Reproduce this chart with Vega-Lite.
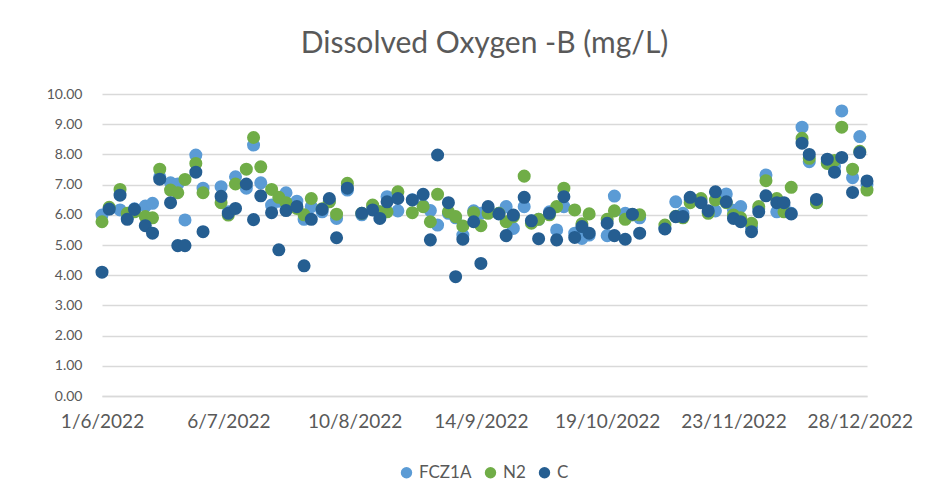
{
  "$schema": "https://vega.github.io/schema/vega-lite/v6.json",
  "width": 765,
  "height": 302,
  "autosize": {"type": "none"},
  "padding": {"left": 102, "top": 94, "right": 85, "bottom": 104},
  "background": "white",
  "title": {"text": "Dissolved Oxygen -B (mg/L)", "font": "Lato", "fontSize": 30, "fontWeight": "normal", "color": "#595959", "anchor": "middle", "offset": 28},
  "config": {"view": {"stroke": null}},
  "data": {"values": [
    {"date": "2022-06-01", "series": "FCZ1A", "value": 5.99},
    {"date": "2022-06-03", "series": "FCZ1A", "value": 6.2},
    {"date": "2022-06-06", "series": "FCZ1A", "value": 6.16},
    {"date": "2022-06-08", "series": "FCZ1A", "value": 5.9},
    {"date": "2022-06-10", "series": "FCZ1A", "value": 6.2},
    {"date": "2022-06-13", "series": "FCZ1A", "value": 6.29},
    {"date": "2022-06-15", "series": "FCZ1A", "value": 6.38},
    {"date": "2022-06-17", "series": "FCZ1A", "value": 7.26},
    {"date": "2022-06-20", "series": "FCZ1A", "value": 7.06},
    {"date": "2022-06-22", "series": "FCZ1A", "value": 7.02},
    {"date": "2022-06-24", "series": "FCZ1A", "value": 5.83},
    {"date": "2022-06-27", "series": "FCZ1A", "value": 7.98},
    {"date": "2022-06-29", "series": "FCZ1A", "value": 6.88},
    {"date": "2022-07-04", "series": "FCZ1A", "value": 6.93},
    {"date": "2022-07-06", "series": "FCZ1A", "value": 6.1},
    {"date": "2022-07-08", "series": "FCZ1A", "value": 7.26},
    {"date": "2022-07-11", "series": "FCZ1A", "value": 6.88},
    {"date": "2022-07-13", "series": "FCZ1A", "value": 8.31},
    {"date": "2022-07-15", "series": "FCZ1A", "value": 7.06},
    {"date": "2022-07-18", "series": "FCZ1A", "value": 6.32},
    {"date": "2022-07-20", "series": "FCZ1A", "value": 6.45},
    {"date": "2022-07-22", "series": "FCZ1A", "value": 6.73},
    {"date": "2022-07-25", "series": "FCZ1A", "value": 6.45},
    {"date": "2022-07-27", "series": "FCZ1A", "value": 5.85},
    {"date": "2022-07-29", "series": "FCZ1A", "value": 6.27},
    {"date": "2022-08-01", "series": "FCZ1A", "value": 6.1},
    {"date": "2022-08-03", "series": "FCZ1A", "value": 6.45},
    {"date": "2022-08-05", "series": "FCZ1A", "value": 5.88},
    {"date": "2022-08-08", "series": "FCZ1A", "value": 6.82},
    {"date": "2022-08-12", "series": "FCZ1A", "value": 6.0},
    {"date": "2022-08-15", "series": "FCZ1A", "value": 6.25},
    {"date": "2022-08-17", "series": "FCZ1A", "value": 6.1},
    {"date": "2022-08-19", "series": "FCZ1A", "value": 6.6},
    {"date": "2022-08-22", "series": "FCZ1A", "value": 6.13},
    {"date": "2022-08-26", "series": "FCZ1A", "value": 6.5},
    {"date": "2022-08-29", "series": "FCZ1A", "value": 6.3},
    {"date": "2022-08-31", "series": "FCZ1A", "value": 6.14},
    {"date": "2022-09-02", "series": "FCZ1A", "value": 5.66},
    {"date": "2022-09-05", "series": "FCZ1A", "value": 6.05},
    {"date": "2022-09-07", "series": "FCZ1A", "value": 5.9},
    {"date": "2022-09-09", "series": "FCZ1A", "value": 5.33},
    {"date": "2022-09-12", "series": "FCZ1A", "value": 6.13},
    {"date": "2022-09-14", "series": "FCZ1A", "value": 6.05},
    {"date": "2022-09-16", "series": "FCZ1A", "value": 6.2},
    {"date": "2022-09-19", "series": "FCZ1A", "value": 6.05},
    {"date": "2022-09-21", "series": "FCZ1A", "value": 6.27},
    {"date": "2022-09-23", "series": "FCZ1A", "value": 5.55},
    {"date": "2022-09-26", "series": "FCZ1A", "value": 6.27},
    {"date": "2022-09-28", "series": "FCZ1A", "value": 5.8},
    {"date": "2022-09-30", "series": "FCZ1A", "value": 5.85},
    {"date": "2022-10-03", "series": "FCZ1A", "value": 6.1},
    {"date": "2022-10-05", "series": "FCZ1A", "value": 5.5},
    {"date": "2022-10-07", "series": "FCZ1A", "value": 6.27},
    {"date": "2022-10-10", "series": "FCZ1A", "value": 5.39},
    {"date": "2022-10-12", "series": "FCZ1A", "value": 5.22},
    {"date": "2022-10-14", "series": "FCZ1A", "value": 5.33},
    {"date": "2022-10-19", "series": "FCZ1A", "value": 5.31},
    {"date": "2022-10-21", "series": "FCZ1A", "value": 6.62},
    {"date": "2022-10-24", "series": "FCZ1A", "value": 6.05},
    {"date": "2022-10-26", "series": "FCZ1A", "value": 6.0},
    {"date": "2022-10-28", "series": "FCZ1A", "value": 5.9},
    {"date": "2022-11-04", "series": "FCZ1A", "value": 5.55},
    {"date": "2022-11-07", "series": "FCZ1A", "value": 6.43},
    {"date": "2022-11-09", "series": "FCZ1A", "value": 6.05},
    {"date": "2022-11-11", "series": "FCZ1A", "value": 6.5},
    {"date": "2022-11-14", "series": "FCZ1A", "value": 6.45},
    {"date": "2022-11-16", "series": "FCZ1A", "value": 6.1},
    {"date": "2022-11-18", "series": "FCZ1A", "value": 6.13},
    {"date": "2022-11-21", "series": "FCZ1A", "value": 6.69},
    {"date": "2022-11-23", "series": "FCZ1A", "value": 6.15},
    {"date": "2022-11-25", "series": "FCZ1A", "value": 6.27},
    {"date": "2022-11-28", "series": "FCZ1A", "value": 5.6},
    {"date": "2022-11-30", "series": "FCZ1A", "value": 6.2},
    {"date": "2022-12-02", "series": "FCZ1A", "value": 7.32},
    {"date": "2022-12-05", "series": "FCZ1A", "value": 6.1},
    {"date": "2022-12-07", "series": "FCZ1A", "value": 6.3},
    {"date": "2022-12-09", "series": "FCZ1A", "value": 6.05},
    {"date": "2022-12-12", "series": "FCZ1A", "value": 8.9},
    {"date": "2022-12-14", "series": "FCZ1A", "value": 7.76},
    {"date": "2022-12-16", "series": "FCZ1A", "value": 6.4},
    {"date": "2022-12-19", "series": "FCZ1A", "value": 7.75},
    {"date": "2022-12-21", "series": "FCZ1A", "value": 7.6},
    {"date": "2022-12-23", "series": "FCZ1A", "value": 9.44},
    {"date": "2022-12-26", "series": "FCZ1A", "value": 7.23},
    {"date": "2022-12-28", "series": "FCZ1A", "value": 8.59},
    {"date": "2022-12-30", "series": "FCZ1A", "value": 7.0},

    {"date": "2022-06-01", "series": "N2", "value": 5.77},
    {"date": "2022-06-03", "series": "N2", "value": 6.25},
    {"date": "2022-06-06", "series": "N2", "value": 6.84},
    {"date": "2022-06-08", "series": "N2", "value": 6.05},
    {"date": "2022-06-10", "series": "N2", "value": 6.1},
    {"date": "2022-06-13", "series": "N2", "value": 5.94},
    {"date": "2022-06-15", "series": "N2", "value": 5.9},
    {"date": "2022-06-17", "series": "N2", "value": 7.51},
    {"date": "2022-06-20", "series": "N2", "value": 6.82},
    {"date": "2022-06-22", "series": "N2", "value": 6.73},
    {"date": "2022-06-24", "series": "N2", "value": 7.17},
    {"date": "2022-06-27", "series": "N2", "value": 7.7},
    {"date": "2022-06-29", "series": "N2", "value": 6.73},
    {"date": "2022-07-04", "series": "N2", "value": 6.4},
    {"date": "2022-07-06", "series": "N2", "value": 5.99},
    {"date": "2022-07-08", "series": "N2", "value": 7.02},
    {"date": "2022-07-11", "series": "N2", "value": 7.51},
    {"date": "2022-07-13", "series": "N2", "value": 8.56},
    {"date": "2022-07-15", "series": "N2", "value": 7.59},
    {"date": "2022-07-18", "series": "N2", "value": 6.84},
    {"date": "2022-07-20", "series": "N2", "value": 6.58},
    {"date": "2022-07-22", "series": "N2", "value": 6.4},
    {"date": "2022-07-25", "series": "N2", "value": 6.21},
    {"date": "2022-07-27", "series": "N2", "value": 6.0},
    {"date": "2022-07-29", "series": "N2", "value": 6.54},
    {"date": "2022-08-01", "series": "N2", "value": 6.2},
    {"date": "2022-08-03", "series": "N2", "value": 6.43},
    {"date": "2022-08-05", "series": "N2", "value": 6.02},
    {"date": "2022-08-08", "series": "N2", "value": 7.04},
    {"date": "2022-08-12", "series": "N2", "value": 6.05},
    {"date": "2022-08-15", "series": "N2", "value": 6.32},
    {"date": "2022-08-17", "series": "N2", "value": 6.1},
    {"date": "2022-08-19", "series": "N2", "value": 6.1},
    {"date": "2022-08-22", "series": "N2", "value": 6.76},
    {"date": "2022-08-26", "series": "N2", "value": 6.07},
    {"date": "2022-08-29", "series": "N2", "value": 6.27},
    {"date": "2022-08-31", "series": "N2", "value": 5.77},
    {"date": "2022-09-02", "series": "N2", "value": 6.68},
    {"date": "2022-09-05", "series": "N2", "value": 6.1},
    {"date": "2022-09-07", "series": "N2", "value": 5.94},
    {"date": "2022-09-09", "series": "N2", "value": 5.63},
    {"date": "2022-09-12", "series": "N2", "value": 6.07},
    {"date": "2022-09-14", "series": "N2", "value": 5.64},
    {"date": "2022-09-16", "series": "N2", "value": 6.05},
    {"date": "2022-09-19", "series": "N2", "value": 6.05},
    {"date": "2022-09-21", "series": "N2", "value": 5.77},
    {"date": "2022-09-23", "series": "N2", "value": 5.94},
    {"date": "2022-09-26", "series": "N2", "value": 7.28},
    {"date": "2022-09-28", "series": "N2", "value": 5.72},
    {"date": "2022-09-30", "series": "N2", "value": 5.85},
    {"date": "2022-10-03", "series": "N2", "value": 6.0},
    {"date": "2022-10-05", "series": "N2", "value": 6.27},
    {"date": "2022-10-07", "series": "N2", "value": 6.88},
    {"date": "2022-10-10", "series": "N2", "value": 6.16},
    {"date": "2022-10-12", "series": "N2", "value": 5.7},
    {"date": "2022-10-14", "series": "N2", "value": 6.03},
    {"date": "2022-10-19", "series": "N2", "value": 5.85},
    {"date": "2022-10-21", "series": "N2", "value": 6.13},
    {"date": "2022-10-24", "series": "N2", "value": 5.85},
    {"date": "2022-10-26", "series": "N2", "value": 6.0},
    {"date": "2022-10-28", "series": "N2", "value": 6.0},
    {"date": "2022-11-04", "series": "N2", "value": 5.66},
    {"date": "2022-11-07", "series": "N2", "value": 5.95},
    {"date": "2022-11-09", "series": "N2", "value": 5.9},
    {"date": "2022-11-11", "series": "N2", "value": 6.4},
    {"date": "2022-11-14", "series": "N2", "value": 6.54},
    {"date": "2022-11-16", "series": "N2", "value": 6.05},
    {"date": "2022-11-18", "series": "N2", "value": 6.49},
    {"date": "2022-11-21", "series": "N2", "value": 6.4},
    {"date": "2022-11-23", "series": "N2", "value": 5.99},
    {"date": "2022-11-25", "series": "N2", "value": 5.9},
    {"date": "2022-11-28", "series": "N2", "value": 5.72},
    {"date": "2022-11-30", "series": "N2", "value": 6.27},
    {"date": "2022-12-02", "series": "N2", "value": 7.13},
    {"date": "2022-12-05", "series": "N2", "value": 6.54},
    {"date": "2022-12-07", "series": "N2", "value": 6.1},
    {"date": "2022-12-09", "series": "N2", "value": 6.91},
    {"date": "2022-12-12", "series": "N2", "value": 8.53},
    {"date": "2022-12-14", "series": "N2", "value": 7.87},
    {"date": "2022-12-16", "series": "N2", "value": 6.4},
    {"date": "2022-12-19", "series": "N2", "value": 7.7},
    {"date": "2022-12-21", "series": "N2", "value": 7.8},
    {"date": "2022-12-23", "series": "N2", "value": 8.9},
    {"date": "2022-12-26", "series": "N2", "value": 7.51},
    {"date": "2022-12-28", "series": "N2", "value": 8.1},
    {"date": "2022-12-30", "series": "N2", "value": 6.82},

    {"date": "2022-06-01", "series": "C", "value": 4.1},
    {"date": "2022-06-03", "series": "C", "value": 6.19},
    {"date": "2022-06-06", "series": "C", "value": 6.65},
    {"date": "2022-06-08", "series": "C", "value": 5.85},
    {"date": "2022-06-10", "series": "C", "value": 6.18},
    {"date": "2022-06-13", "series": "C", "value": 5.64},
    {"date": "2022-06-15", "series": "C", "value": 5.39},
    {"date": "2022-06-17", "series": "C", "value": 7.18},
    {"date": "2022-06-20", "series": "C", "value": 6.4},
    {"date": "2022-06-22", "series": "C", "value": 4.98},
    {"date": "2022-06-24", "series": "C", "value": 4.98},
    {"date": "2022-06-27", "series": "C", "value": 7.41},
    {"date": "2022-06-29", "series": "C", "value": 5.44},
    {"date": "2022-07-04", "series": "C", "value": 6.61},
    {"date": "2022-07-06", "series": "C", "value": 6.05},
    {"date": "2022-07-08", "series": "C", "value": 6.21},
    {"date": "2022-07-11", "series": "C", "value": 7.02},
    {"date": "2022-07-13", "series": "C", "value": 5.84},
    {"date": "2022-07-15", "series": "C", "value": 6.63},
    {"date": "2022-07-18", "series": "C", "value": 6.07},
    {"date": "2022-07-20", "series": "C", "value": 4.84},
    {"date": "2022-07-22", "series": "C", "value": 6.14},
    {"date": "2022-07-25", "series": "C", "value": 6.27},
    {"date": "2022-07-27", "series": "C", "value": 4.31},
    {"date": "2022-07-29", "series": "C", "value": 5.85},
    {"date": "2022-08-01", "series": "C", "value": 6.18},
    {"date": "2022-08-03", "series": "C", "value": 6.54},
    {"date": "2022-08-05", "series": "C", "value": 5.24},
    {"date": "2022-08-08", "series": "C", "value": 6.88},
    {"date": "2022-08-12", "series": "C", "value": 6.05},
    {"date": "2022-08-15", "series": "C", "value": 6.16},
    {"date": "2022-08-17", "series": "C", "value": 5.88},
    {"date": "2022-08-19", "series": "C", "value": 6.43},
    {"date": "2022-08-22", "series": "C", "value": 6.54},
    {"date": "2022-08-26", "series": "C", "value": 6.49},
    {"date": "2022-08-29", "series": "C", "value": 6.68},
    {"date": "2022-08-31", "series": "C", "value": 5.17},
    {"date": "2022-09-02", "series": "C", "value": 7.98},
    {"date": "2022-09-05", "series": "C", "value": 6.4},
    {"date": "2022-09-07", "series": "C", "value": 3.95},
    {"date": "2022-09-09", "series": "C", "value": 5.19},
    {"date": "2022-09-12", "series": "C", "value": 5.77},
    {"date": "2022-09-14", "series": "C", "value": 4.39},
    {"date": "2022-09-16", "series": "C", "value": 6.27},
    {"date": "2022-09-19", "series": "C", "value": 6.03},
    {"date": "2022-09-21", "series": "C", "value": 5.31},
    {"date": "2022-09-23", "series": "C", "value": 5.99},
    {"date": "2022-09-26", "series": "C", "value": 6.58},
    {"date": "2022-09-28", "series": "C", "value": 5.8},
    {"date": "2022-09-30", "series": "C", "value": 5.21},
    {"date": "2022-10-03", "series": "C", "value": 6.05},
    {"date": "2022-10-05", "series": "C", "value": 5.17},
    {"date": "2022-10-07", "series": "C", "value": 6.6},
    {"date": "2022-10-10", "series": "C", "value": 5.25},
    {"date": "2022-10-12", "series": "C", "value": 5.61},
    {"date": "2022-10-14", "series": "C", "value": 5.39},
    {"date": "2022-10-19", "series": "C", "value": 5.72},
    {"date": "2022-10-21", "series": "C", "value": 5.31},
    {"date": "2022-10-24", "series": "C", "value": 5.19},
    {"date": "2022-10-26", "series": "C", "value": 6.02},
    {"date": "2022-10-28", "series": "C", "value": 5.39},
    {"date": "2022-11-04", "series": "C", "value": 5.53},
    {"date": "2022-11-07", "series": "C", "value": 5.94},
    {"date": "2022-11-09", "series": "C", "value": 5.94},
    {"date": "2022-11-11", "series": "C", "value": 6.58},
    {"date": "2022-11-14", "series": "C", "value": 6.4},
    {"date": "2022-11-16", "series": "C", "value": 6.13},
    {"date": "2022-11-18", "series": "C", "value": 6.76},
    {"date": "2022-11-21", "series": "C", "value": 6.43},
    {"date": "2022-11-23", "series": "C", "value": 5.88},
    {"date": "2022-11-25", "series": "C", "value": 5.77},
    {"date": "2022-11-28", "series": "C", "value": 5.44},
    {"date": "2022-11-30", "series": "C", "value": 6.1},
    {"date": "2022-12-02", "series": "C", "value": 6.63},
    {"date": "2022-12-05", "series": "C", "value": 6.4},
    {"date": "2022-12-07", "series": "C", "value": 6.4},
    {"date": "2022-12-09", "series": "C", "value": 6.03},
    {"date": "2022-12-12", "series": "C", "value": 8.37},
    {"date": "2022-12-14", "series": "C", "value": 8.0},
    {"date": "2022-12-16", "series": "C", "value": 6.51},
    {"date": "2022-12-19", "series": "C", "value": 7.84},
    {"date": "2022-12-21", "series": "C", "value": 7.41},
    {"date": "2022-12-23", "series": "C", "value": 7.9},
    {"date": "2022-12-26", "series": "C", "value": 6.74},
    {"date": "2022-12-28", "series": "C", "value": 8.06},
    {"date": "2022-12-30", "series": "C", "value": 7.12}
  ]},
  "mark": {"type": "circle", "size": 170, "opacity": 1},
  "encoding": {
    "x": {
      "field": "date", "type": "temporal",
      "scale": {"type": "utc", "domain": [{"year": 2022, "month": 6, "date": 1, "utc": true}, {"year": 2022, "month": 12, "date": 30, "utc": true}]},
      "axis": {
        "title": null, "grid": false, "ticks": false, "domain": true, "domainColor": "#D9D9D9", "domainWidth": 1.5,
        "values": [
          {"year": 2022, "month": 6, "date": 1, "utc": true},
          {"year": 2022, "month": 7, "date": 6, "utc": true},
          {"year": 2022, "month": 8, "date": 10, "utc": true},
          {"year": 2022, "month": 9, "date": 14, "utc": true},
          {"year": 2022, "month": 10, "date": 19, "utc": true},
          {"year": 2022, "month": 11, "date": 23, "utc": true},
          {"year": 2022, "month": 12, "date": 28, "utc": true}
        ],
        "format": "%-d/%-m/%Y", "labelFont": "Lato", "labelFontSize": 19, "labelColor": "#595959",
        "labelPadding": 16, "labelFlush": false, "labelOverlap": false
      }
    },
    "y": {
      "field": "value", "type": "quantitative",
      "scale": {"domain": [0, 10], "nice": false, "zero": true},
      "axis": {
        "title": null, "values": [0, 1, 2, 3, 4, 5, 6, 7, 8, 9, 10], "format": ".2f",
        "grid": true, "gridColor": "#D9D9D9", "gridWidth": 1.5, "domain": false, "ticks": false,
        "labelFont": "Lato", "labelFontSize": 14, "labelColor": "#595959", "labelPadding": 20
      }
    },
    "color": {
      "field": "series", "type": "nominal",
      "scale": {"domain": ["FCZ1A", "N2", "C"], "range": ["#5B9BD5", "#70AD47", "#255E91"]},
      "legend": {
        "title": null, "orient": "none", "direction": "horizontal", "legendX": 296, "legendY": 370,
        "symbolType": "circle", "symbolSize": 130, "symbolOpacity": 1, "labelFont": "Lato", "labelFontSize": 17,
        "labelColor": "#595959", "labelOffset": 4, "columnPadding": 10, "padding": 0
      }
    }
  }
}
